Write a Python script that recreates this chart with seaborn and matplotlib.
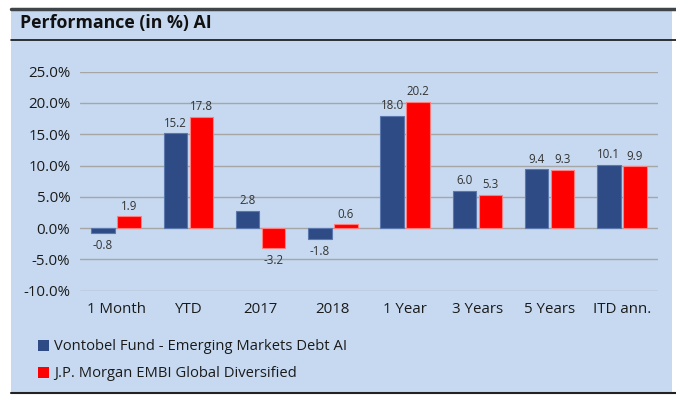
import matplotlib
matplotlib.use("Agg")
import matplotlib.pyplot as plt
import seaborn as sns
import pandas as pd
from matplotlib.patches import Rectangle, Patch
from matplotlib.lines import Line2D

categories = ["1 Month", "YTD", "2017", "2018", "1 Year", "3 Years", "5 Years", "ITD ann."]
series_names = ["Vontobel Fund - Emerging Markets Debt AI", "J.P. Morgan EMBI Global Diversified"]
fund_values = [-0.8, 15.2, 2.8, -1.8, 18.0, 6.0, 9.4, 10.1]
index_values = [1.9, 17.8, -3.2, 0.6, 20.2, 5.3, 9.3, 9.9]
y_ticks = [-10, -5, 0, 5, 10, 15, 20, 25]
title = "Performance (in %) AI"

colors = ["#2E4B85", "#FF0000"]
edge_colors = ["#5A77AE", "#FF7F7F"]
bg = "#C6D9F0"

df = pd.DataFrame({
    "category": categories * 2,
    "value": fund_values + index_values,
    "series": [series_names[0]] * len(categories) + [series_names[1]] * len(categories),
})

sns.set_theme(style="white")
plt.rcParams["font.family"] = ["Open Sans", "DejaVu Sans"]

W, H = 676, 400
fig = plt.figure(figsize=(W / 100, H / 100), dpi=100)
fig.patch.set_facecolor("white")


def fx(x):
    return x / W


def fy(y):
    return 1 - y / H


fig.patches.append(Rectangle((fx(11), fy(392)), fx(672) - fx(11), fy(9) - fy(392),
                             transform=fig.transFigure, facecolor=bg, edgecolor="none",
                             zorder=-5))
fig.lines.append(Line2D([fx(11), fx(676)], [fy(9), fy(9)], transform=fig.transFigure,
                        color="#3F4448", linewidth=2.5, zorder=-4))
fig.lines.append(Line2D([fx(11), fx(676)], [fy(39.5), fy(39.5)], transform=fig.transFigure,
                        color="#111111", linewidth=1.2, zorder=-4))
fig.lines.append(Line2D([fx(11), fx(676)], [fy(393), fy(393)], transform=fig.transFigure,
                        color="#222222", linewidth=1.5, zorder=-4))
fig.text(fx(20), fy(23), title, fontsize=12.8, fontweight="bold", color="#111111",
         va="center", ha="left")

ax = fig.add_axes([fx(80), fy(290.7), fx(658) - fx(80), fy(71.7) - fy(290.7)])
ax.set_facecolor("none")

sns.barplot(data=df, x="category", y="value", hue="series", order=categories,
            hue_order=series_names, palette=colors, width=0.72, gap=0.1,
            ax=ax, legend=False, saturation=1)

for cont, ec in zip(ax.containers, edge_colors):
    for bar in cont:
        bar.set_edgecolor(ec)
        bar.set_linewidth(0.8)
        v = bar.get_height()
        xc = bar.get_x() + bar.get_width() / 2
        if v >= 0:
            ax.annotate(f"{v:.1f}", (xc, v), xytext=(0, 2.5), textcoords="offset points",
                        ha="center", va="bottom", fontsize=8.3, color="#333333")
        else:
            ax.annotate(f"{v:.1f}", (xc, v), xytext=(0, -4), textcoords="offset points",
                        ha="center", va="top", fontsize=8.3, color="#333333")

ax.set_ylim(-10, 25)
ax.set_xlim(-0.5, len(categories) - 0.5)
ax.set_yticks(y_ticks)
ax.set_yticklabels([f"{t:.1f}%" for t in y_ticks], fontsize=10.8, color="#1A1A1A")
ax.tick_params(axis="x", labelsize=10.8, labelcolor="#1A1A1A", length=0, pad=8)
ax.tick_params(axis="y", length=0, pad=7)
ax.set_xlabel("")
ax.set_ylabel("")
for s in ax.spines.values():
    s.set_visible(False)
ax.yaxis.grid(True, color="#A6A6A6", linewidth=1)
ax.set_axisbelow(True)

handles = [Patch(facecolor=c, edgecolor="none") for c in colors]
fig.legend(handles, series_names, loc="upper left", bbox_to_anchor=(fx(25), fy(326)),
           frameon=False, fontsize=10.6, handlelength=0.75, handleheight=0.75,
           handletextpad=0.35, labelspacing=0.82, labelcolor="#1A1A1A")

fig.savefig("out.png", dpi=100, facecolor="white")
